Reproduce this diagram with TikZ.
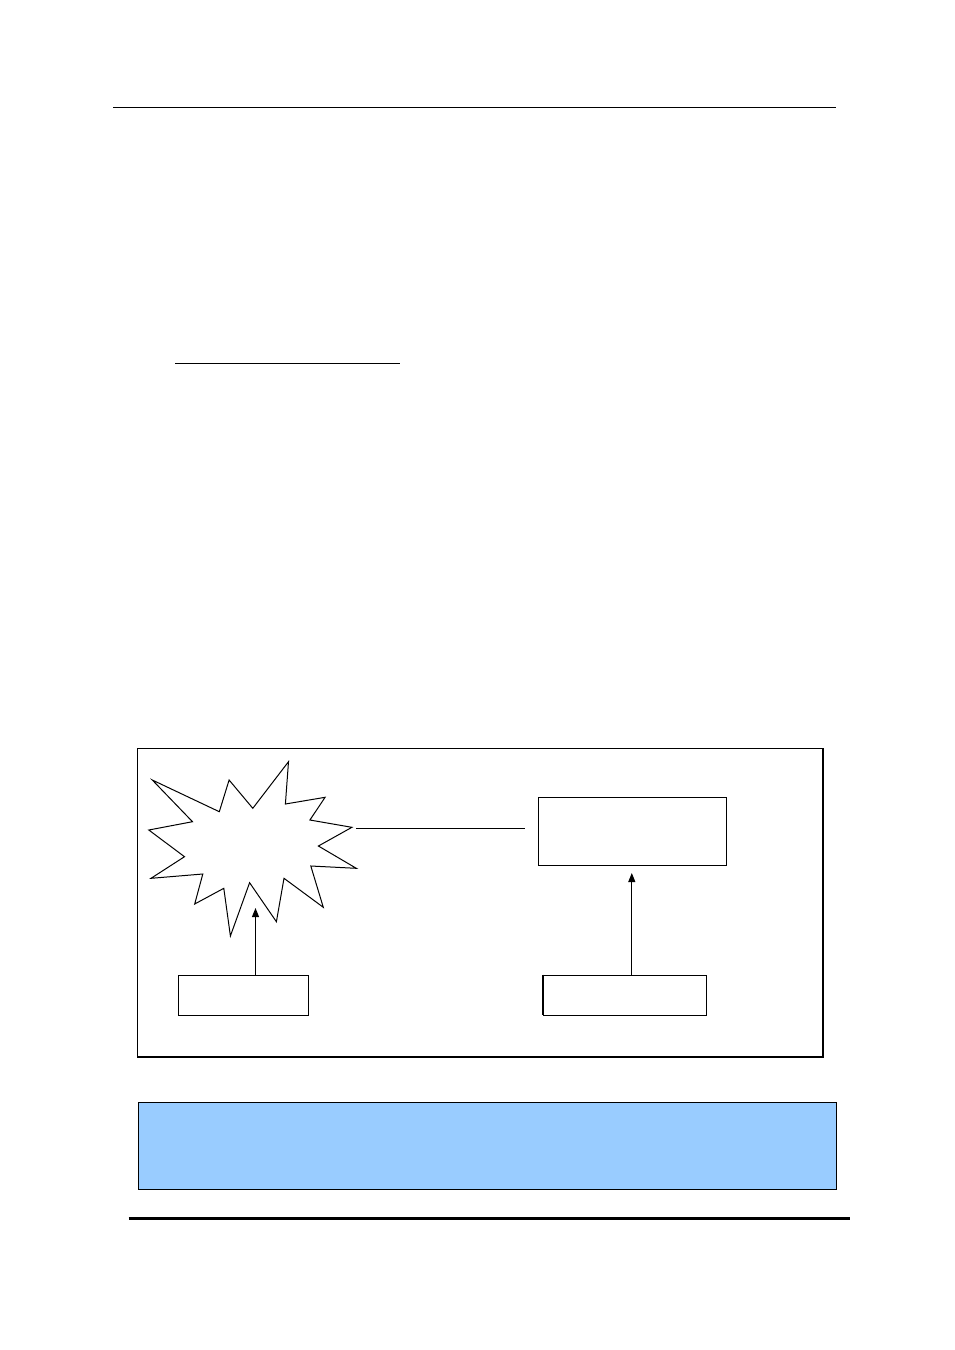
\documentclass[tikz,border=0pt]{standalone}
\usetikzlibrary{arrows.meta}
\begin{document}
\begin{tikzpicture}[x=1pt,y=-1pt,
  plainbox/.style={draw=black,line width=1pt,fill=white,inner sep=0pt,anchor=north west},
  arr/.style={-{Triangle[length=9pt,width=7pt]},line width=1pt},
  rule/.style={line width=#1}]
\useasboundingbox (0,0) rectangle (955,1350);
% header and footer rules
\draw[rule=1pt] (113,107) -- (836,107);
\draw[rule=1.6pt] (175,363.5) -- (399.5,363.5);
\draw[rule=3pt] (128.5,1218) -- (849.5,1218);
% outer frame
\node[plainbox,minimum width=686pt,minimum height=309pt] (frame) at (137,748) {};
\draw[line width=1.2pt] (137.5,1057) -- (823,1057) -- (823,748);
% starburst
\draw[line width=1pt,fill=white,line join=miter]
  (152.3,780) -- (219.3,811.7) -- (229.1,780) -- (252.8,808.3) -- (288.5,761.7)
  -- (285.4,804) -- (325.1,797.3) -- (309.9,820) -- (351.9,827.3) -- (318.4,846)
  -- (356.3,868.3) -- (310.8,866) -- (323.3,907.3) -- (284,878.3) -- (276.4,921.7)
  -- (249.6,882.7) -- (230.4,936) -- (223.8,888.3) -- (194.7,904) -- (202.8,874)
  -- (151,878.3) -- (184.5,856.7) -- (148.8,830) -- (192.5,821.7) -- cycle;
\coordinate (starR) at (356,828.5);
\coordinate (starB) at (255.5,908);
% boxes
\node[plainbox,minimum width=188pt,minimum height=68pt] (tr) at (538,797) {};
\node[plainbox,minimum width=130pt,minimum height=40pt] (bl) at (177.5,974.5) {};
\node[plainbox,minimum width=163pt,minimum height=40pt] (br) at (542.5,974.5) {};
\draw[line width=1.6pt] (543,974.5) -- (543,1014.5);
\coordinate (lineEnd) at (524.5,828.5);
% connectors
\draw[line width=1pt] (starR) -- (lineEnd);
\draw[arr] (bl.north -| starB) -- (starB);
\draw[arr,shorten >=7pt] (br.north -| 631.8,0) -- (tr.south -| 631.8,0);
% blue note box
\node[draw=black,line width=1pt,fill={rgb,255:red,153;green,204;blue,255},
  minimum width=698pt,minimum height=86.5pt,inner sep=0pt,anchor=north west] (note) at (137.5,1102) {};
\end{tikzpicture}
\end{document}
